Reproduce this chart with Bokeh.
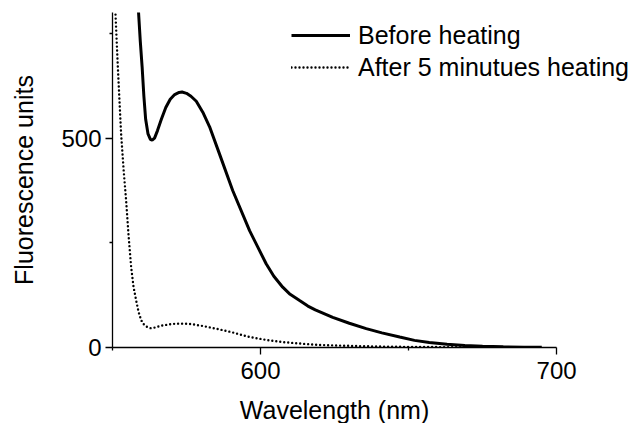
from bokeh.plotting import figure
from bokeh.models import Range1d, FixedTicker, Legend, LegendItem, Label
from bokeh.embed import file_html
from bokeh.resources import INLINE

# Data
wl_before = [558.5, 558.8, 559.4, 560.0, 560.6, 561.2, 562.0, 562.8, 563.4, 564.2, 565.2,
             566.5, 568.0, 569.5, 571.0, 572.5, 573.5, 575.0, 576.5, 578.3, 580.5, 582.8,
             586.1, 590.6, 596.3, 601.9, 604.5, 607.5, 610.0, 613.2, 616.0, 618.5, 624.4,
             630.0, 635.7, 641.0, 647.0, 652.0, 657.0, 663.0, 669.0, 675.0, 682.0, 689.0, 695.0]
fl_before = [860, 800, 730, 671, 600, 545, 510, 497, 495, 500, 518,
             545, 573, 593, 604, 609, 610, 607, 600, 588, 562, 527,
             463, 375, 279, 200, 170, 144, 127, 112, 99, 90, 72,
             58, 45, 35, 25, 17, 12, 8, 5, 3, 1.5, 0.7, 0.3]

wl_after = [550.6, 551.0, 551.8, 552.9, 553.8, 554.6, 555.4, 556.3, 557.1, 558.0, 558.8,
            559.7, 560.7, 561.9, 563.0, 564.5, 566.5, 569.0, 571.5, 573.8, 576.5, 580.0,
            585.0, 590.0, 596.3, 602.0, 607.5, 614.0, 620.0, 627.0, 635.0, 643.0, 650.0,
            660.0, 670.0, 680.0, 695.0]
fl_after = [900, 798, 670, 511, 420, 351, 270, 192, 145, 112, 85,
            65, 54, 48, 46, 48, 52, 55, 57, 57, 56, 52,
            45, 37, 25, 18, 13, 9, 6, 4.5, 3, 2, 1.5,
            1, 0.5, 0.3, 0]

x_ticks = [600, 700]
x_minor = [550, 650]
y_ticks = [0, 500]
y_minor = [250, 750]

x_title = "Wavelength (nm)"
y_title = "Fluorescence units"
series_labels = ["Before heating", "After 5 minutues heating"]

FONT = "Liberation Sans"

p = figure(width=636, height=423, output_backend="svg", toolbar_location=None,
           x_range=Range1d(550, 727), y_range=Range1d(0, 800),
           min_border_left=112, min_border_right=0, min_border_top=12, min_border_bottom=76)
p.outline_line_color = None
p.xgrid.visible = False
p.ygrid.visible = False
p.background_fill_color = "white"

r1 = p.line(wl_before, fl_before, line_color="black", line_width=3)
r2 = p.line(wl_after, fl_after, line_color="black", line_width=2.4, line_dash="0 4",
            line_cap="round")

for ax in (p.xaxis[0], p.yaxis[0]):
    ax.axis_line_width = 1.3
    ax.major_tick_line_width = 1.3
    ax.minor_tick_line_width = 1.3
    ax.major_tick_in = 0
    ax.major_tick_out = 7
    ax.minor_tick_in = 0
    ax.minor_tick_out = 3
    ax.major_label_text_font = FONT
    ax.major_label_text_font_size = "24px"
    ax.major_label_text_color = "black"
    ax.axis_label_text_font = FONT
    ax.axis_label_text_font_size = "25px"
    ax.axis_label_text_font_style = "normal"
    ax.axis_label_text_color = "black"
    ax.axis_line_color = "black"
    ax.major_tick_line_color = "black"
    ax.minor_tick_line_color = "black"

p.xaxis[0].ticker = FixedTicker(ticks=x_ticks, minor_ticks=x_minor)
p.yaxis[0].ticker = FixedTicker(ticks=y_ticks, minor_ticks=y_minor)
p.xaxis[0].bounds = (550, 700)
p.yaxis[0].bounds = (0, 800)
p.yaxis[0].axis_label = y_title
p.xaxis[0].major_label_standoff = 7
p.yaxis[0].major_label_standoff = 4
p.yaxis[0].axis_label_standoff = 20
p.yaxis[0].major_label_orientation = "horizontal"

# x-axis title placed in the panel below the plot
p.add_layout(Label(x=625, y=0, x_units="data", y_units="screen", text=x_title,
                   text_align="center", text_baseline="alphabetic",
                   text_font=FONT, text_font_size="25px", text_color="black"), "below")

legend = Legend(items=[LegendItem(label=series_labels[0], renderers=[r1]),
                       LegendItem(label=series_labels[1], renderers=[r2])],
                location=(179, 264), padding=0, margin=0, spacing=0,
                glyph_width=59, glyph_height=32, label_height=32,
                label_standoff=8, border_line_color=None, background_fill_alpha=0,
                label_text_font=FONT, label_text_font_size="25px", label_text_color="black")
p.add_layout(legend)

open("out.html", "w").write(file_html(p, INLINE))
